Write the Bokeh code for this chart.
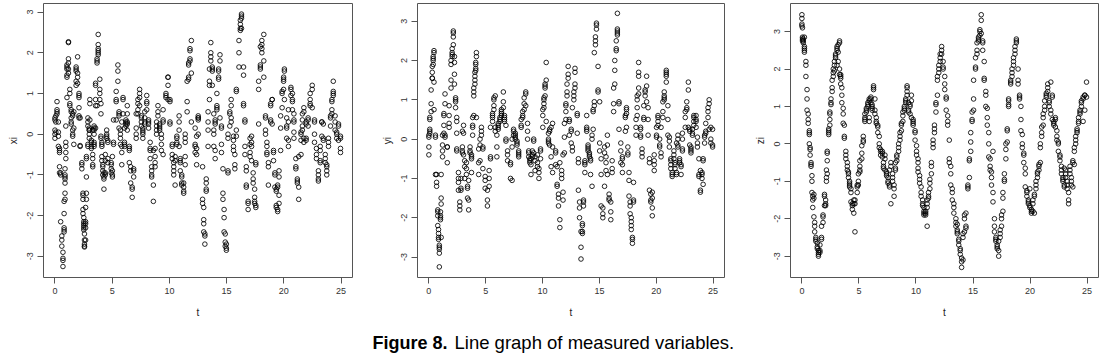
from bokeh.plotting import figure
from bokeh.layouts import column, row
from bokeh.models import FixedTicker, Range1d, Label, ColumnDataSource
from bokeh.embed import file_html
from bokeh.resources import INLINE

# ---------------- data ----------------
x_ticks = [0, 5, 10, 15, 20, 25]
y_ticks = [-3, -2, -1, 0, 1, 2, 3]
x_label = "t"
y_labels = ["xi", "yi", "zi"]
caption_bold = "Figure 8."
caption_text = "Line graph of measured variables."

# (t, [observed values at about that t])
xi_obs = [
    (0.00, [0.40, 0.35, 0.10, 0.00, -0.10]), (0.08, [0.05, 0.30, 0.45]),
    (0.18, [0.50, 0.60, 0.80, 0.55]), (0.30, [0.30, 0.05, -0.05, -0.30]),
    (0.40, [-0.35, -0.40, -0.45, -0.80, -0.95]), (0.50, [-0.95, -1.00, -2.15]),
    (0.60, [-2.50, -2.60, -2.75]), (0.70, [-2.90, -3.05, -3.10, -3.25]),
    (0.80, [-2.40, -2.35, -2.30, -1.95, -1.65]), (0.88, [-1.60, -1.45, -1.20, -1.10, -1.05, -1.00, -0.85]),
    (0.95, [-0.60, -0.45, -0.30, -0.20, 0.20]), (1.05, [0.90, 1.40, 1.45, 1.60, 1.65, 1.70]),
    (1.18, [1.50, 1.60, 1.75, 1.85, 2.25, 2.27]), (1.30, [1.10, 1.00, 0.75, 0.70]),
    (1.42, [0.60, 0.55, 0.40, 0.30, 0.25]), (1.55, [0.10, 0.00, -0.05, 0.50, 0.45]),
    (1.65, [-0.25, 0.15, 0.55]), (1.85, [1.20, 1.30, 1.55, 1.60, 1.65]),
    (1.98, [1.90, 1.50, 1.40, 1.25]), (2.10, [1.00, 0.95, 0.90, 0.65, 0.45, 0.40]),
    (2.20, [-0.30, -0.28, 0.40]), (2.35, [-0.70, -0.75, -0.85]),
    (2.45, [-1.45, -1.50, -1.60, -1.85, -1.95]), (2.52, [-2.05, -2.15, -2.20, -2.25, -2.30, -2.35]),
    (2.58, [-2.45, -2.60, -2.70, -2.75, -2.77]), (2.68, [-2.60, -2.30, -2.20, -2.15, -1.80]),
    (2.75, [-1.60, -1.45, -1.05, -0.60, -0.55]), (2.88, [-0.25, -0.30, 0.20, 0.30, 0.40]),
    (3.00, [0.15, 0.10, 0.10, 0.00, -0.10]), (3.05, [0.75, 0.85, 0.35]),
    (3.18, [-0.20, -0.30, -0.15, -0.35]), (3.30, [-0.50, -0.60, -0.75, -0.80, 0.10]),
    (3.42, [0.15, 0.20, 0.10, -0.20, -0.25, -0.30, 0.00]), (3.55, [0.15, 0.70, 0.85, 1.20, 1.25]),
    (3.68, [0.70, 1.75, 1.80, 1.85]), (3.78, [2.00, 2.10, 2.20, 2.45, 1.95, 2.05]),
    (3.92, [1.35, 1.10, 1.00, 0.85]), (4.02, [0.75, 0.50, -0.05, -0.10]),
    (4.10, [-0.20, -0.30, -0.25, -0.55, -0.65]), (4.18, [-0.75, -0.80, -0.90, -1.00]),
    (4.28, [-1.05, -1.10, -1.35, -0.95]), (4.40, [-0.95, -1.00, -0.65, -0.50]),
    (4.52, [-0.05, -0.10, 0.00, 0.10]), (4.62, [-0.15, -0.20, -0.60, -0.70]),
    (4.92, [-0.75, -0.70, -0.85, -0.95]), (5.02, [-1.00, -1.05, -0.90, -0.55]),
    (5.12, [-0.20, -0.25, 0.35]), (5.35, [0.35, 0.80, 0.85, 1.05]),
    (5.50, [1.55, 1.70, 1.30]), (5.60, [0.55, 0.45, 0.50, 0.15]),
    (5.72, [0.10, 0.00, -0.10, -0.25]), (5.84, [-0.30, -0.45, -0.75, 0.30]),
    (5.95, [0.50, 0.85, 0.90]), (6.08, [-0.20, -0.30, -0.25, 0.15]),
    (6.20, [0.20, 0.25, 0.30, 0.35]), (6.32, [0.50, 0.70, 0.30, 0.10, 0.25]),
    (6.50, [-0.35, -0.40, -0.30, -0.70]), (6.62, [-0.80, -0.90, -1.20]),
    (6.75, [-1.30, -1.35, -1.55]), (6.88, [-0.85, -0.90, -1.05]),
    (7.10, [0.15, 0.00, -0.10, 0.50]), (7.25, [0.50, 0.60, 0.75, 0.85]),
    (7.40, [0.90, 1.00, 1.10, 0.70]), (7.55, [0.45, 0.40, 0.30, 0.20]),
    (7.68, [0.15, 0.10, 0.05, 0.00, -0.10]), (7.85, [0.30, 0.25, 0.40, 0.55]),
    (8.02, [0.75, 0.80, 0.95, 0.60]), (8.18, [0.30, 0.25, 0.35, 0.15]),
    (8.32, [-0.20, -0.35, -0.40, -0.60]), (8.45, [-0.80, -0.90, -1.00, -1.05]),
    (8.60, [-1.25, -1.65, -0.40]), (8.75, [-0.55, -0.70, -0.80, -0.35]),
    (8.88, [0.00, 0.10, 0.20, 0.30]), (9.00, [0.45, 0.55, 0.70]),
    (9.15, [0.15, 0.20, 0.25, 0.10]), (9.30, [0.00, -0.10, -0.25, -0.40]),
    (9.45, [-0.50, 0.30, 0.35, 0.60]), (9.70, [0.90, 1.00, 0.95]),
    (9.88, [1.20, 1.40, 1.40, 0.85]), (10.05, [0.80, 0.85, 0.30, 0.25]),
    (10.25, [-0.25, -0.30, -0.50, -0.60]), (10.38, [-0.70, -0.80, -0.90, -1.00]),
    (10.50, [-1.25, -0.65, -0.55]), (10.65, [-0.10, -0.05, -0.20, -0.25]),
    (10.85, [-0.30, 0.10, 0.30, 0.45]), (10.95, [-0.60, -0.65, -0.70, -0.90]),
    (11.08, [-1.05, -1.20, -1.25, -1.00]), (11.25, [-1.20, -1.30, -1.40, -1.45]),
    (11.38, [-0.75, -0.55, -0.10, 0.00, -0.20]), (11.55, [0.55, 0.80, 1.30]),
    (11.68, [1.35, 1.40, 1.70, 1.75]), (11.80, [1.80, 1.85, 2.05, 2.10]),
    (11.92, [2.30, 1.50, 0.30]), (12.25, [0.15, -0.25, -0.30, -0.45]),
    (12.38, [-0.50, -0.35, -0.75, -0.05]), (12.52, [0.00, 0.35, 0.40, 0.45, 0.40]),
    (12.90, [-0.80, -1.60, -1.70]), (13.00, [-1.80, -2.10, -2.20, -2.40]),
    (13.10, [-2.45, -2.50, -2.70]), (13.22, [-1.20, -1.10, -1.35, -1.40]),
    (13.38, [-0.30, 0.10, 0.30, 0.55]), (13.50, [0.85, 1.20, 1.30, 1.60]),
    (13.62, [1.80, 1.90, 2.00, 2.25]), (13.75, [1.65, 1.60, 1.55, 1.20]),
    (13.88, [0.50, 0.10, 0.00, -0.30]), (14.00, [-0.40, -0.60, 0.25, 0.30, 0.35]),
    (14.15, [0.60, 0.65, 0.70, 1.00]), (14.30, [1.35, 1.40, 1.55, 1.60]),
    (14.42, [1.80, 1.95, 0.40]), (14.55, [-0.25, -0.45, 0.15, 0.20]),
    (14.68, [-0.85, -1.45, -1.60]), (14.78, [-1.85, -2.05, -2.40]),
    (14.88, [-2.45, -2.65, -2.75]), (14.98, [-2.80, -2.85, -2.70]),
    (15.12, [-0.90, -0.95, -0.10, 0.00]), (15.28, [0.20, 0.50, 0.55]),
    (15.40, [0.70, 0.85, 0.40, 0.30]), (15.60, [-0.05, -0.15, -0.30, -0.40]),
    (15.72, [-0.50, -0.75, -0.85]), (15.85, [-0.05, 0.10, 1.05, 1.10]),
    (16.08, [1.65, 2.00, 2.30]), (16.20, [2.55, 2.60, 2.70, 2.80]),
    (16.30, [2.90, 2.95, 2.85, 2.60]), (16.48, [1.65, 1.45, 0.70, 0.75]),
    (16.60, [0.30, 0.35, -0.30, -0.50]), (16.72, [-0.80, -0.90, -1.25, -1.30]),
    (16.88, [-1.65, -1.70, -1.85]), (17.05, [-0.55, -0.45, -0.25, -0.10]),
    (17.18, [-0.05, -0.20, -0.30, -0.65]), (17.32, [-0.95, -1.10, -1.20]),
    (17.45, [-1.35, -1.55, -1.65, -1.70]), (17.55, [-1.75, -1.80, -0.70, -0.75]),
    (17.80, [0.25, 1.10, 1.30]), (17.95, [1.60, 1.65, 1.70, 2.15]),
    (18.08, [2.20, 2.10, 2.00, 2.30]), (18.25, [2.45, 1.40, 1.80]),
    (18.40, [0.45, 0.40, 0.10, 0.00]), (18.52, [-0.20, -0.30, -0.45, -0.50]),
    (18.65, [-0.70, -0.80, -1.25]), (18.85, [0.30, 0.35, 0.70, 0.75]),
    (18.98, [0.85, 0.85, 0.25]), (19.10, [-0.40, -0.45, -0.65]),
    (19.22, [-0.95, -1.00, -1.30]), (19.34, [-1.35, -1.40, -1.75, -1.80]),
    (19.46, [-1.85, -1.90, -1.25, -1.30]), (19.58, [-1.50, -1.70, -1.05, -0.90]),
    (19.72, [-0.40, 0.15, 0.45]), (19.85, [0.65, 1.00, 1.05]),
    (19.98, [1.10, 1.30, 1.35, 1.40]), (20.05, [1.55, 1.60, 0.85]),
    (20.25, [0.40, 0.20, 0.15, -0.10]), (20.40, [-0.15, -0.30, 0.30, 0.60]),
    (20.62, [0.95, 1.10, 1.15]), (20.75, [1.00, 0.85, 0.80, 0.60]),
    (20.88, [0.50, 0.35, 0.30, 0.05, -0.10]), (21.05, [-0.60, -0.80, -0.85]),
    (21.18, [-1.10, -1.15, -1.20]), (21.30, [-1.30, -1.60, -0.55]),
    (21.50, [-0.50, -0.15, 0.00, 0.05]), (21.62, [0.10, 0.20, 0.35, 0.50]),
    (21.75, [0.55, 0.65, -0.10, -0.20]), (21.95, [0.25, 0.30, -0.10, -0.15]),
    (22.12, [0.20, 0.35, 0.40]), (22.30, [0.70, 0.75, 0.85, 1.00]),
    (22.48, [1.10, 1.20, 0.65]), (22.68, [0.35, 0.30, 0.00, -0.20]),
    (22.85, [-0.35, -0.50, -0.60]), (23.02, [-0.90, -1.00, -1.10, -1.15]),
    (23.18, [-0.70, -0.65, -0.40, -0.30]), (23.32, [0.30, 0.30, -0.05]),
    (23.45, [-0.10, -0.15, 0.25]), (23.62, [-0.50, -0.60, -0.70]),
    (23.75, [-0.75, -0.80, -0.90, -1.00]), (23.90, [-0.30, -0.20, -0.10]),
    (24.08, [0.20, 0.40, 0.45]), (24.20, [0.50, 0.60, 0.80, 0.85]),
    (24.32, [0.95, 1.00, 1.05, 1.30]), (24.48, [0.45, 0.30, 0.10]),
    (24.62, [0.00, 0.05, -0.10]), (24.78, [-0.15, 0.20, 0.25]),
    (24.95, [-0.35, -0.45, -0.10, -0.05]),
]

yi_obs = [
    (0.00, [-0.40, -0.20, 0.05, 0.10]), (0.08, [0.15, 0.20, 0.25, 0.50, 0.55]),
    (0.20, [0.70, 0.90, 1.25]), (0.30, [1.55, 1.55, 1.70, 1.85]),
    (0.38, [1.90, 2.00, 2.05, 2.10]), (0.45, [2.20, 2.25, 1.45, 0.75]),
    (0.58, [0.05, 0.10, -0.90]), (0.68, [-0.90, -1.10, -1.20]),
    (0.78, [-1.80, -1.85, -1.95, -2.20]), (0.85, [-2.30, -2.40, -2.50, -2.55]),
    (0.92, [-2.70, -2.75, -2.80, -2.90, -3.25]), (1.02, [-2.05, -2.00, -1.95, -1.85]),
    (1.08, [-1.65, -1.50, -0.90, -2.50]), (1.20, [-0.45, -0.30, -0.15, 0.10]),
    (1.32, [0.15, 0.35, 0.60, 0.65]), (1.42, [0.90, 1.15, 0.05, 0.10]),
    (1.62, [-0.60, -0.20, -0.20]), (1.78, [0.30, 0.40, 0.60, 0.85]),
    (1.95, [1.30, 1.50, 1.90, 2.00]), (2.05, [2.10, 2.15, 2.20, 2.30]),
    (2.15, [2.40, 2.60, 2.70, 2.75]), (2.25, [1.95, 2.10, 1.65, 1.40]),
    (2.35, [1.05, 1.00, 0.95, 0.80]), (2.45, [0.55, 0.45, 0.15, -0.25, -0.30]),
    (2.60, [-0.85, -1.00, -1.10, -1.30]), (2.72, [-1.60, -1.70, -1.80]),
    (2.82, [-1.30, -1.25, -1.00]), (2.95, [-0.30, -0.35, -0.20, 0.20]),
    (3.05, [0.35, 0.15, -0.40]), (3.15, [-0.70, -1.00, -0.55]),
    (3.30, [-0.60, -0.75, -0.90]), (3.40, [-1.20, -1.25, -1.50]),
    (3.50, [-1.55, -1.80, -1.05]), (3.62, [-0.30, -0.35, -0.20]),
    (3.75, [-0.40, -0.45, -0.50, -0.85]), (3.85, [0.10, 0.30, 0.35, 0.55]),
    (3.95, [0.60, 1.10, 1.20, 1.30]), (4.05, [1.40, 1.50, 1.60, 1.70]),
    (4.12, [1.75, 1.80, 1.90, 1.95]), (4.18, [2.10, 2.20, 0.55]),
    (4.38, [-0.25, -0.60, -0.90]), (4.50, [-0.55, 0.00, -0.15]),
    (4.62, [0.10, 0.20, 0.30]), (4.75, [-0.20, -0.25, -0.75]),
    (4.95, [-0.95, -1.05, -1.25]), (5.15, [-1.55, -1.70, -1.30]),
    (5.30, [-1.20, -1.00, -0.80]), (5.42, [-0.50, -0.45, 0.30]),
    (5.60, [0.45, 0.55, 0.60, 0.65]), (5.72, [0.75, 0.85, 1.00, 1.05]),
    (5.84, [1.10, 0.30, 0.20]), (5.98, [0.10, -0.20, -0.45]),
    (6.10, [0.30, 0.35, 0.40, 0.25]), (6.25, [0.45, 0.50, 0.55]),
    (6.38, [0.60, 0.65, 0.70, 0.75]), (6.55, [0.95, 1.20, 0.80]),
    (6.65, [0.60, 0.55, 0.50, 0.45]), (6.78, [0.35, 0.00, -0.05]),
    (6.92, [-0.30, -0.40, -0.55]), (7.18, [-0.60, -0.65, -1.00]),
    (7.32, [-1.05, -0.20, 0.00]), (7.45, [0.10, 0.20, 0.25]),
    (7.60, [0.15, 0.10, 0.05, 0.00]), (7.75, [-0.05, -0.10, -0.15]),
    (7.90, [-0.30, -0.35, -0.40, -0.45]), (8.12, [0.30, 0.35, 0.50]),
    (8.25, [0.55, 0.60, 0.70]), (8.38, [0.75, 0.90, 1.05]),
    (8.52, [1.15, 1.20, 0.85]), (8.68, [0.40, 0.20, 0.00]),
    (8.78, [-0.30, -0.35, -0.45]), (8.88, [-0.50, -0.55, -0.60]),
    (8.98, [-0.65, -0.90, -0.50]), (9.10, [-0.45, -0.40, -0.30]),
    (9.22, [-0.05, 0.00, -0.35]), (9.34, [-0.45, -0.55, -0.80]),
    (9.55, [-0.40, -0.60, -0.70]), (9.68, [-0.75, -0.85, -1.00]),
    (9.82, [-0.50, -0.30, -0.25]), (10.02, [0.30, 0.60, 0.75]),
    (10.12, [0.80, 0.90, 1.00, 1.05]), (10.22, [1.10, 1.30, 1.35, 1.40]),
    (10.32, [1.50, 1.95, 0.45]), (10.52, [0.15, 0.00, -0.05, -0.10]),
    (10.62, [-0.15, 0.20, 0.25]), (10.75, [0.30, -0.45, -0.70]),
    (10.88, [-0.85, 0.40, -0.20]), (11.15, [-0.30, -0.35, -0.65]),
    (11.28, [-0.70, -1.15, -1.20]), (11.40, [-1.40, -1.50, -1.70]),
    (11.52, [-2.05, -2.25, -0.60]), (11.68, [-0.80, -0.90, -1.00]),
    (11.80, [-1.35, -1.55, -0.40]), (11.92, [-0.35, 0.05, 0.40]),
    (12.05, [0.50, 0.70, 0.85, 0.90]), (12.15, [1.10, 1.20, 1.40]),
    (12.25, [1.55, 1.65, 1.85]), (12.35, [0.45, 0.50, 0.10]),
    (12.52, [0.20, 0.25, -0.10]), (12.62, [-0.20, -0.30, 0.80]),
    (12.75, [1.00, 1.10, 1.20]), (12.85, [1.30, 1.40, 1.70, 1.80]),
    (13.05, [0.60, 0.65, 0.15]), (13.15, [-0.50, -0.60, -1.30]),
    (13.25, [-1.60, -1.75, -2.00]), (13.38, [-2.35, -2.75, -3.05]),
    (13.50, [-2.15, -2.20, -2.35, -2.40]), (13.60, [-1.55, -1.60, -1.70]),
    (13.72, [-0.85, -0.55, -0.60, -0.65]), (13.88, [0.60, 0.30, 0.25, 0.20]),
    (14.00, [-0.15, -0.20, -0.25, -0.30]), (14.12, [-0.35, -0.40, -0.45]),
    (14.22, [-0.50, -0.55, -0.90]), (14.35, [-1.20, 0.00, 0.10]),
    (14.45, [0.25, 0.70, 0.75]), (14.55, [0.85, 0.95, 2.20]),
    (14.65, [2.40, 2.50, 2.60]), (14.74, [2.80, 2.90, 2.95]),
    (14.88, [1.85, 1.25, 1.20]), (15.02, [0.95, -0.10, -0.30]),
    (15.15, [-0.50, -0.90, -1.70]), (15.30, [-1.75, -1.90, -2.00]),
    (15.45, [-1.20, -0.20, -0.35]), (15.58, [-0.45, -0.60, -0.80]),
    (15.70, [-0.90, 0.10, -0.15]), (15.85, [-1.40, -1.50, -1.55]),
    (16.00, [-1.60, -1.85, -2.05]), (16.12, [-0.85, -0.75, -0.55]),
    (16.25, [0.70, 0.90, 1.30]), (16.35, [1.40, 1.75, 2.00]),
    (16.48, [2.25, 2.30, 2.50]), (16.58, [2.65, 2.70, 2.75, 2.80, 3.20]),
    (16.72, [0.95, 0.90, 0.25]), (16.88, [-0.10, -0.30, -0.60]),
    (17.02, [-0.65, -0.85, -0.45, -0.50]), (17.28, [0.20, 0.55, 0.60]),
    (17.38, [0.65, 0.75, 0.80, 0.30]), (17.50, [-0.20, -0.35, -0.40]),
    (17.60, [-0.85, -1.05, -1.45]), (17.70, [-1.60, -1.70, -1.90]),
    (17.80, [-2.00, -2.10, -2.20, -2.30]), (17.90, [-2.50, -2.55, -2.65]),
    (18.00, [-1.55, -1.60, -1.10]), (18.22, [0.10, 0.30, 0.50]),
    (18.32, [0.60, 0.80, 1.00, 1.10]), (18.45, [1.15, 1.30, 1.60, 1.70, 1.95]),
    (18.62, [0.25, 0.30, 0.10, 0.05]), (18.75, [-0.25, -0.35, -0.45]),
    (18.90, [0.50, 0.55, 0.85]), (19.02, [1.10, 1.20, 1.25]),
    (19.15, [1.35, 1.60, 0.95]), (19.28, [0.80, 0.50, 0.10]),
    (19.40, [-0.50, -0.60, -1.30]), (19.52, [-1.40, -1.55, -1.60]),
    (19.65, [-1.95, -1.75, -1.50, -1.35]), (19.82, [-0.65, -0.55, -0.40, -0.80]),
    (20.02, [0.10, 0.05, 0.30]), (20.15, [0.35, 0.45, 0.55, 0.60]),
    (20.30, [0.00, -0.15, -0.20]), (20.42, [-0.35, -0.45, 0.30]),
    (20.58, [0.55, 0.70, 0.95]), (20.70, [1.00, 1.05, 1.10, 1.20]),
    (20.88, [1.45, 1.60, 1.65, 1.70, 1.75]), (21.02, [0.85, 0.50, 0.10]),
    (21.15, [0.05, -0.05, -0.20]), (21.28, [-0.50, -0.55, -0.65, -0.75]),
    (21.40, [-0.85, -0.90, -0.95]), (21.55, [-0.30, -0.40, -0.50]),
    (21.65, [-0.60, -0.65, -0.75]), (21.78, [-0.85, -0.90, -0.10]),
    (21.90, [-0.15, 0.00, 0.10, -0.20]), (22.05, [-0.50, -0.55, -0.60]),
    (22.18, [-0.65, -0.70, -0.90]), (22.30, [-0.30, -0.25, 0.00, 0.15]),
    (22.55, [0.30, 0.55, 0.70]), (22.68, [0.75, 0.80, 0.95]),
    (22.82, [1.25, 1.45, 0.30]), (22.94, [0.25, 0.20, -0.15]),
    (23.05, [-0.20, -0.25, -0.30, -0.35]), (23.18, [0.10, 0.15, 0.25]),
    (23.30, [0.35, 0.45, 0.55, 0.60]), (23.50, [0.60, 0.50, 0.45, 0.30]),
    (23.62, [0.05, -0.10, -0.20]), (23.75, [-0.50, -0.90, -0.95]),
    (23.88, [-1.30, -1.35, -0.80]), (24.02, [-0.85, -0.90, -1.00]),
    (24.12, [-1.15, -0.55, -0.50]), (24.25, [-0.10, 0.05, 0.10]),
    (24.35, [0.15, 0.20, 0.40]), (24.55, [0.55, 0.70, 0.80]),
    (24.65, [0.90, 1.00, 0.25]), (24.80, [0.30, 0.00, -0.10]),
    (24.95, [-0.15, -0.20, 0.25]),
]

zi_obs = [
    (0.00, [3.45, 3.35, 3.20, 3.15]), (0.05, [3.10, 2.85, 2.80, 2.75]),
    (0.12, [2.80, 2.75, 2.70]), (0.22, [2.60, 2.55, 2.50, 2.45, 2.85]),
    (0.35, [2.20, 2.10, 1.80]), (0.45, [1.45, 1.20, 0.90]),
    (0.55, [0.80, 0.65, 0.55]), (0.65, [0.35, 0.30, 0.25, 0.00]),
    (0.72, [-0.10, -0.15, -0.30]), (0.80, [-0.50, -0.55, -0.60]),
    (0.88, [-0.85, -1.00, -1.30]), (0.95, [-1.40, -1.50, -1.70]),
    (1.05, [-1.35, -1.45, -1.95]), (1.12, [-2.10, -2.20, -2.35]),
    (1.22, [-2.50, -2.55, -2.60]), (1.35, [-2.65, -2.75, -2.80]),
    (1.45, [-2.85, -2.90, -2.95, -3.00]), (1.58, [-2.90, -2.85, -2.70]),
    (1.72, [-2.50, -2.55, -2.20]), (1.85, [-2.10, -1.95, -1.90]),
    (1.98, [-1.65, -1.35, -1.40]), (2.08, [-1.50, -1.60, -1.65]),
    (2.15, [-1.00, -0.90, -0.70]), (2.22, [-0.20, -0.25, -0.45, -0.80]),
    (2.35, [0.25, 0.30, 0.35, 0.40]), (2.45, [0.50, 0.65, 0.80, 0.85]),
    (2.55, [1.10, 1.20, 1.05]), (2.65, [1.40, 1.50, 1.70]),
    (2.75, [1.80, 1.90, 2.00]), (2.85, [2.10, 1.95, 2.20]),
    (2.95, [2.30, 2.35, 2.40]), (3.08, [2.50, 2.55, 2.60, 2.10]),
    (3.18, [2.20, 2.45, 2.65]), (3.30, [2.75, 2.70, 2.00, 1.85]),
    (3.40, [1.80, 1.75, 1.60, 1.85]), (3.50, [1.50, 1.30, 1.10]),
    (3.62, [0.95, 0.80, 0.55]), (3.72, [0.50, 0.20, 0.15]),
    (3.85, [-0.20, -0.30, -0.40]), (3.98, [-0.50, -0.60, -0.70]),
    (4.08, [-0.75, -0.80, -0.90]), (4.18, [-1.00, -1.05, -1.10, -1.15]),
    (4.30, [-1.20, -1.30, -1.55]), (4.42, [-1.60, -1.65, -1.75]),
    (4.55, [-1.85, -1.60, -1.50]), (4.65, [-2.35, -1.50, -1.60]),
    (4.85, [-1.30, -1.15, -1.10]), (4.95, [-1.00, -0.80, -1.10]),
    (5.08, [-0.70, -0.60, -0.45, -0.75]), (5.25, [-0.40, -0.25, -0.05]),
    (5.38, [0.05, 0.10, 0.20]), (5.52, [0.60, 0.65, 0.70, 0.80]),
    (5.65, [0.85, 0.90, 0.95]), (5.78, [1.00, 1.05, 1.10]),
    (5.90, [1.15, 1.20, 0.70, 0.60]), (6.05, [1.25, 1.20, 1.10]),
    (6.15, [1.05, 1.00, 0.95, 0.90]), (6.28, [1.55, 1.50, 1.45]),
    (6.40, [1.20, 0.90, 0.80]), (6.52, [0.70, 0.60, 0.55]),
    (6.65, [0.50, 0.45, 0.30]), (6.78, [0.20, 0.00, -0.10]),
    (6.90, [-0.20, -0.30, -0.15]), (7.05, [-0.20, -0.25, -0.35]),
    (7.15, [-0.50, -0.60, -0.65]), (7.28, [-0.70, -0.30, -0.40]),
    (7.42, [-0.75, -0.80, -0.85]), (7.55, [-0.90, -1.00, -1.05]),
    (7.68, [-1.10, -1.15, -0.70]), (7.80, [-0.60, -1.60, -0.50]),
    (7.95, [-0.80, -0.90, -1.00]), (8.08, [-1.10, -1.20, -1.40]),
    (8.20, [-0.65, -0.70, -0.50]), (8.32, [-0.45, -0.30, -0.35]),
    (8.48, [-0.20, -0.10, 0.00]), (8.60, [0.10, 0.20, 0.30]),
    (8.72, [0.35, 0.50, 0.55]), (8.85, [0.60, 0.75, 0.85]),
    (8.98, [0.90, 0.95, 1.00]), (9.10, [1.10, 1.15, 1.20]),
    (9.22, [1.30, 1.40, 1.50, 1.55]), (9.35, [1.10, 0.90, 0.85]),
    (9.48, [0.80, 1.00, 1.05]), (9.60, [1.15, 1.30, 0.70]),
    (9.75, [0.65, 0.60, 0.55, 0.50]), (9.92, [0.35, 0.30, 0.10]),
    (10.05, [-0.05, -0.20, -0.30]), (10.18, [-0.40, -0.50, -0.65, -0.75]),
    (10.32, [-0.85, -0.95, -1.05]), (10.45, [-1.15, -1.30, -1.40]),
    (10.58, [-1.50, -1.60, -1.65]), (10.70, [-1.70, -1.80, -1.85, -1.90]),
    (10.85, [-1.90, -1.85, -1.80]), (10.98, [-1.70, -1.60, -1.50, -2.20]),
    (11.10, [-1.45, -1.40, -1.30]), (11.22, [-1.05, -1.20, -0.95]),
    (11.35, [-0.80, -0.60, -0.50]), (11.50, [-0.10, 0.00, 0.10]),
    (11.62, [0.30, 0.40, 0.50]), (11.75, [0.85, 1.05, 1.10]),
    (11.88, [1.30, 1.70, 1.80]), (12.00, [1.90, 2.00, 2.10]),
    (12.12, [2.20, 2.30, 2.40]), (12.25, [2.50, 2.60, 2.40]),
    (12.38, [2.20, 2.05, 2.00]), (12.52, [1.80, 1.60, 1.45]),
    (12.65, [1.25, 1.20, 0.90]), (12.78, [0.75, 0.60, 0.50]),
    (12.92, [0.10, -0.40, -0.50]), (13.05, [-0.60, -0.80, -1.10]),
    (13.18, [-1.20, -1.30, -1.50]), (13.32, [-1.60, -1.70, -1.85]),
    (13.50, [-2.00, -2.10, -2.20]), (13.62, [-2.30, -2.35, -2.40, -2.15]),
    (13.75, [-2.55, -2.60, -2.70]), (13.88, [-2.80, -2.85, -2.95]),
    (14.00, [-3.05, -3.15, -3.30]), (14.12, [-3.10, -2.50, -2.40]),
    (14.25, [-2.35, -2.00, -1.90]), (14.38, [-1.85, -2.20, -2.25]),
    (14.55, [-1.10, -1.15, -1.20]), (14.68, [-0.90, -0.45, -0.40]),
    (14.80, [-0.20, 0.05, 0.30]), (14.92, [0.60, 0.65, 0.85]),
    (15.05, [0.90, 1.20, 1.70]), (15.22, [2.05, 2.00, 2.30]),
    (15.35, [2.40, 2.50, 2.70]), (15.48, [2.75, 2.80, 2.85]),
    (15.60, [2.90, 3.00, 3.05]), (15.72, [3.30, 3.45, 2.95]),
    (15.85, [2.75, 2.70, 2.50]), (15.98, [2.20, 1.75, 1.70]),
    (16.12, [1.40, 1.30, 1.00]), (16.25, [0.95, 0.70, 0.50]),
    (16.38, [0.30, 0.00, -0.35]), (16.50, [-0.40, -0.60, -0.70]),
    (16.62, [-0.75, -0.90, -1.10]), (16.75, [-1.30, -1.55, -0.20]),
    (16.88, [-2.00, -2.20, -2.35]), (17.00, [-2.50, -2.55, -2.60]),
    (17.12, [-2.70, -2.75, -2.80]), (17.25, [-2.85, -3.00, -2.60]),
    (17.38, [-2.50, -2.40, -2.30]), (17.50, [-2.20, -2.00, -1.90]),
    (17.62, [-1.80, -1.45, -1.30]), (17.75, [-1.00, -0.95, -0.80]),
    (17.88, [-0.40, -0.15, 0.00]), (18.00, [0.05, 0.35, 0.40]),
    (18.12, [1.00, 1.05, 1.15, 1.20]), (18.30, [1.60, 1.65, 1.70]),
    (18.42, [1.80, 1.90, 2.00]), (18.55, [2.10, 2.20, 2.30]),
    (18.68, [2.40, 2.50, 2.60]), (18.80, [2.70, 2.75, 2.80]),
    (18.95, [1.70, 1.60, 2.00]), (19.08, [1.30, 1.25, 1.20]),
    (19.20, [1.00, 0.65, 0.35]), (19.32, [0.25, 0.00, -0.10]),
    (19.45, [-0.25, -0.30, -0.50]), (19.58, [-0.65, -0.80, -1.15]),
    (19.72, [-1.25, -1.30, -1.40]), (19.85, [-1.50, -1.55, -1.60]),
    (19.98, [-1.20, -1.65, -1.70]), (20.12, [-1.75, -1.80, -1.85]),
    (20.25, [-1.60, -1.50, -1.80]), (20.38, [-1.35, -1.40, -1.85]),
    (20.52, [-1.20, -1.10, -1.00]), (20.65, [-0.90, -0.80, -0.75]),
    (20.78, [-0.70, -0.60, -0.55]), (20.90, [-0.50, -0.10, 0.00]),
    (21.02, [0.20, 0.30, 0.45]), (21.15, [0.50, 0.70, 0.80]),
    (21.28, [0.90, 1.00, 1.15]), (21.42, [1.25, 1.30, 1.35]),
    (21.55, [1.40, 1.50, 1.60]), (21.68, [1.15, 1.10, 1.00]),
    (21.82, [0.90, 0.80, 1.65]), (21.95, [1.30, 1.25, 0.65]),
    (22.08, [0.60, 0.55, 0.50]), (22.22, [0.45, 0.65, 0.70]),
    (22.35, [0.35, 0.20, 0.10]), (22.48, [0.05, 0.00, -0.20]),
    (22.62, [-0.30, -0.35, -0.45]), (22.75, [-0.60, -0.70, -0.80]),
    (22.88, [-0.90, -0.95, -1.00]), (23.00, [-1.10, -1.15, -0.65]),
    (23.12, [-0.70, -0.80, -0.90]), (23.25, [-1.00, -1.10, -1.20]),
    (23.38, [-1.30, -1.50, -1.60]), (23.50, [-0.60, -0.70, -0.80]),
    (23.62, [-0.90, -1.00, -1.10]), (23.75, [-1.15, -0.50, -0.45]),
    (23.88, [-0.55, -0.20, -0.10]), (24.00, [0.00, 0.10, 0.20]),
    (24.12, [0.30, 0.35, 0.40]), (24.25, [0.55, 0.60, 0.70]),
    (24.38, [0.80, 0.85, 0.90]), (24.50, [1.00, 1.10, 1.15]),
    (24.65, [1.20, 1.25, 0.60]), (24.80, [1.30, 1.30, 0.90]),
    (24.95, [1.65, 1.25]),
]

# ---------------- layout / style ----------------
FONT = "Liberation Sans"
AX = "#555555"


def panel(obs, ylab, width, border_left, border_right, y_lo, y_hi):
    ts = [t for t, ys in obs for _ in ys]
    vs = [v for _, ys in obs for v in ys]
    src = ColumnDataSource(data=dict(t=ts, v=vs))
    p = figure(width=width, height=322, output_backend="svg", toolbar_location=None,
               x_range=Range1d(-1, 26), y_range=Range1d(y_lo, y_hi),
               min_border_left=border_left, min_border_right=border_right,
               min_border_top=3, min_border_bottom=45,
               background_fill_color="white", border_fill_color="white")
    p.scatter("t", "v", source=src, marker="circle", size=4.6,
              fill_color=None, line_color="#000000", line_width=0.85)
    p.grid.visible = False
    p.outline_line_color = AX
    p.outline_line_width = 1
    p.outline_line_alpha = 1
    p.xaxis.ticker = FixedTicker(ticks=x_ticks)
    p.yaxis.ticker = FixedTicker(ticks=y_ticks)
    p.yaxis.major_label_overrides = {k: str(k) for k in y_ticks}
    for ax in (p.xaxis[0], p.yaxis[0]):
        ax.axis_line_color = None
        ax.major_tick_line_color = AX
        ax.major_tick_out = 6
        ax.major_tick_in = 0
        ax.minor_tick_line_color = None
        ax.major_label_text_font = FONT
        ax.major_label_text_font_size = "9px"
        ax.major_label_text_color = "#333333"
        ax.major_label_standoff = 4
        ax.axis_label_text_font = FONT
        ax.axis_label_text_font_size = "10px"
        ax.axis_label_text_font_style = "normal"
        ax.axis_label_text_color = "#222222"
    p.xaxis.axis_label = x_label
    p.xaxis.axis_label_standoff = 10
    p.yaxis.axis_label = ylab
    p.yaxis.axis_label_standoff = 6
    p.yaxis.major_label_orientation = "vertical"
    return p


p1 = panel(xi_obs, y_labels[0], 365, 43, 13, -3.52, 3.21)
p2 = panel(yi_obs, y_labels[1], 367, 52, 8, -3.52, 3.45)
p3 = panel(zi_obs, y_labels[2], 371, 58, 5, -3.57, 3.75)

cap = figure(width=1103, height=31, output_backend="svg", toolbar_location=None,
             x_axis_type=None, y_axis_type=None,
             x_range=Range1d(0, 1103), y_range=Range1d(0, 31),
             min_border=0, min_border_left=0, min_border_right=0,
             min_border_top=0, min_border_bottom=0,
             background_fill_color="white", border_fill_color="white")
cap.outline_line_color = None
cap.add_layout(Label(x=372, y=11, text=caption_bold,
                     text_font=FONT, text_font_size="18px", text_font_style="bold",
                     text_color="#000000", text_baseline="alphabetic"))
cap.add_layout(Label(x=454, y=11, text=caption_text,
                     text_font=FONT, text_font_size="18.5px", text_color="#000000",
                     text_baseline="alphabetic"))

layout = column(row(p1, p2, p3), cap)
open("out.html", "w").write(file_html(layout, INLINE))
